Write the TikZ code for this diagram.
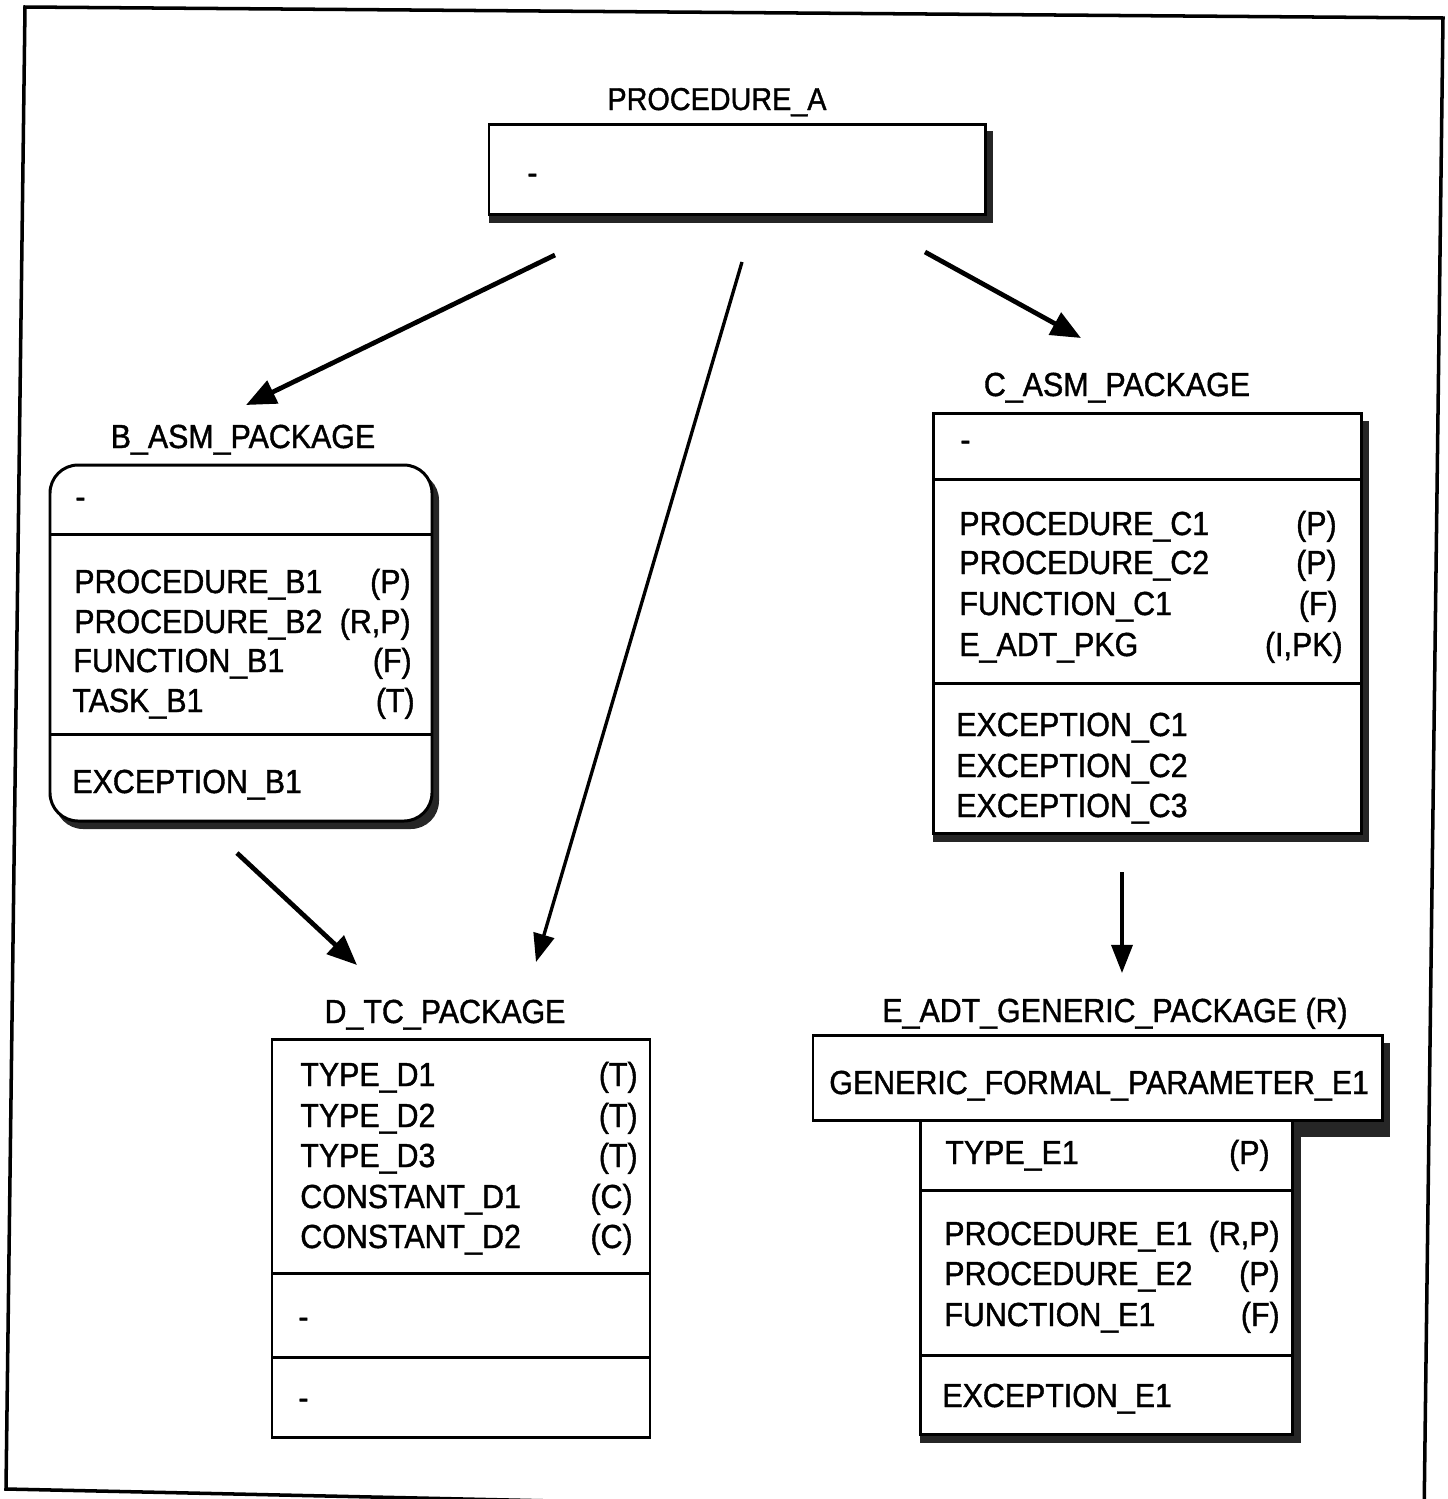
\documentclass[tikz,border=0pt]{standalone}
\usepackage{fontspec}
\setmainfont{Liberation Sans}[FakeStretch=0.91,FakeBold=1.2]
\usetikzlibrary{arrows.meta}
\newcommand{\fsz}{\fontsize{19}{22}\selectfont}
\newcommand{\fst}{\fontsize{18}{21}\selectfont}
\begin{document}
\begin{tikzpicture}[x=0.02cm,y=-0.02cm,
  boxline/.style={line width=1.7pt},
  shadowfill/.style={fill=black!85},
  lbl/.style={font=\fsz, inner sep=0pt, anchor=base west},
  tag/.style={font=\fsz, inner sep=0pt, anchor=base east},
  ttl/.style={font=\fsz, inner sep=0pt, anchor=base},
  arr/.style={line width=2.7pt, -{Triangle[length=17pt,width=14pt]}},
  arrthin/.style={line width=1.9pt, -{Triangle[length=16pt,width=12pt]}}]
\useasboundingbox (0,0) rectangle (1448,1499);
\clip (0,0) rectangle (1448,1499);
% outer frame (slightly skewed, as scanned)
\draw[line width=2pt] (25,7) -- (1443,18) -- (1424,1520) -- (6,1489) -- cycle;

% ---------- PROCEDURE_A ----------
\node[ttl, font=\fst] (ta) at (717,110) {PROCEDURE\_A};
\fill[shadowfill] (489,131) -- (993,131) -- (993,223) -- (489,223) -- cycle;
\draw[boxline, fill=white] (489,124) rectangle (985,214);
\node[lbl] (a0) at (527,184) {-};

% ---------- B_ASM_PACKAGE ----------
\node[ttl] (tb) at (243,448) {B\_ASM\_PACKAGE};
\fill[shadowfill, rounded corners=16pt] (55,472) rectangle (439,829);
\draw[boxline, fill=white, rounded corners=16pt] (50,465) rectangle (432,821);
\draw[boxline] (50,534) -- (432,534);
\draw[boxline] (50,734) -- (432,734);
\node[lbl] (b0) at (75,508) {-};
\node[lbl] (b1) at (74,593) {PROCEDURE\_B1};
\node[lbl] (b2) at (74,633) {PROCEDURE\_B2};
\node[lbl] (b3) at (73,672) {FUNCTION\_B1};
\node[lbl] (b4) at (72,712) {TASK\_B1};
\node[tag] (b1t) at (411,593) {(P)};
\node[tag] (b2t) at (411,633) {(R,P)};
\node[tag] (b3t) at (412,672) {(F)};
\node[tag] (b4t) at (415,712) {(T)};
\node[lbl] (b5) at (72,793) {EXCEPTION\_B1};

% ---------- C_ASM_PACKAGE ----------
\node[ttl] (tc) at (1117,396) {C\_ASM\_PACKAGE};
\fill[shadowfill] (933,421) rectangle (1369,842);
\draw[boxline, fill=white] (933,413) rectangle (1361,833);
\draw[boxline] (933,479) -- (1361,479);
\draw[boxline] (933,683) -- (1361,683);
\node[lbl] (c0) at (960,451) {-};
\node[lbl] (c1) at (959,535) {PROCEDURE\_C1};
\node[lbl] (c2) at (959,574) {PROCEDURE\_C2};
\node[lbl] (c3) at (959,615) {FUNCTION\_C1};
\node[lbl] (c4) at (959,656) {E\_ADT\_PKG};
\node[tag] (c1t) at (1337,535) {(P)};
\node[tag] (c2t) at (1337,574) {(P)};
\node[tag] (c3t) at (1338,615) {(F)};
\node[tag] (c4t) at (1343,656) {(I,PK)};
\node[lbl] (c5) at (956,736) {EXCEPTION\_C1};
\node[lbl] (c6) at (956,777) {EXCEPTION\_C2};
\node[lbl] (c7) at (956,817) {EXCEPTION\_C3};

% ---------- D_TC_PACKAGE ----------
\node[ttl] (td) at (445,1023) {D\_TC\_PACKAGE};
\draw[boxline] (272,1039) rectangle (650,1437);
\draw[boxline] (272,1273) -- (650,1273);
\draw[boxline] (272,1357) -- (650,1357);
\node[lbl] (d1) at (300,1086) {TYPE\_D1};
\node[lbl] (d2) at (300,1127) {TYPE\_D2};
\node[lbl] (d3) at (300,1167) {TYPE\_D3};
\node[lbl] (d4) at (300,1208) {CONSTANT\_D1};
\node[lbl] (d5) at (300,1248) {CONSTANT\_D2};
\node[tag] (d1t) at (638,1086) {(T)};
\node[tag] (d2t) at (638,1127) {(T)};
\node[tag] (d3t) at (638,1167) {(T)};
\node[tag] (d4t) at (633,1208) {(C)};
\node[tag] (d5t) at (633,1248) {(C)};
\node[lbl] (d6) at (298,1328) {-};
\node[lbl] (d7) at (298,1409) {-};

% ---------- E_ADT_GENERIC_PACKAGE ----------
\node[ttl] (te) at (1115,1022) {E\_ADT\_GENERIC\_PACKAGE (R)};
\fill[shadowfill] (1292,1043) rectangle (1390,1137);
\fill[shadowfill] (920,1128) rectangle (1301,1443);
\draw[boxline, fill=white] (813,1035) rectangle (1382,1120);
\draw[boxline, fill=white] (920,1120) rectangle (1292,1434);
\draw[boxline] (920,1190) -- (1292,1190);
\draw[boxline] (920,1355) -- (1292,1355);
\node[lbl] (e0) at (829,1094) {GENERIC\_FORMAL\_PARAMETER\_E1};
\node[lbl] (e1) at (945,1164) {TYPE\_E1};
\node[tag] (e1t) at (1270,1164) {(P)};
\node[lbl] (e2) at (944,1245) {PROCEDURE\_E1};
\node[lbl] (e3) at (944,1285) {PROCEDURE\_E2};
\node[lbl] (e4) at (944,1326) {FUNCTION\_E1};
\node[tag] (e2t) at (1280,1245) {(R,P)};
\node[tag] (e3t) at (1280,1285) {(P)};
\node[tag] (e4t) at (1280,1326) {(F)};
\node[lbl] (e5) at (942,1407) {EXCEPTION\_E1};

% ---------- connectors ----------
\coordinate (ab) at (555,255);  \coordinate (bt) at (246,405);
\coordinate (ad) at (742,262);  \coordinate (dt) at (536,962);
\coordinate (ac) at (925,252);  \coordinate (ct) at (1081,338);
\coordinate (bd) at (237,853);  \coordinate (dt2) at (357,965);
\coordinate (ce) at (1122,872); \coordinate (et) at (1122,973);
\draw[arr] (ab) -- (bt);
\draw[arrthin] (ad) -- (dt);
\draw[arr] (ac) -- (ct);
\draw[arr] (bd) -- (dt2);
\draw[arrthin] (ce) -- (et);
\end{tikzpicture}
\end{document}
